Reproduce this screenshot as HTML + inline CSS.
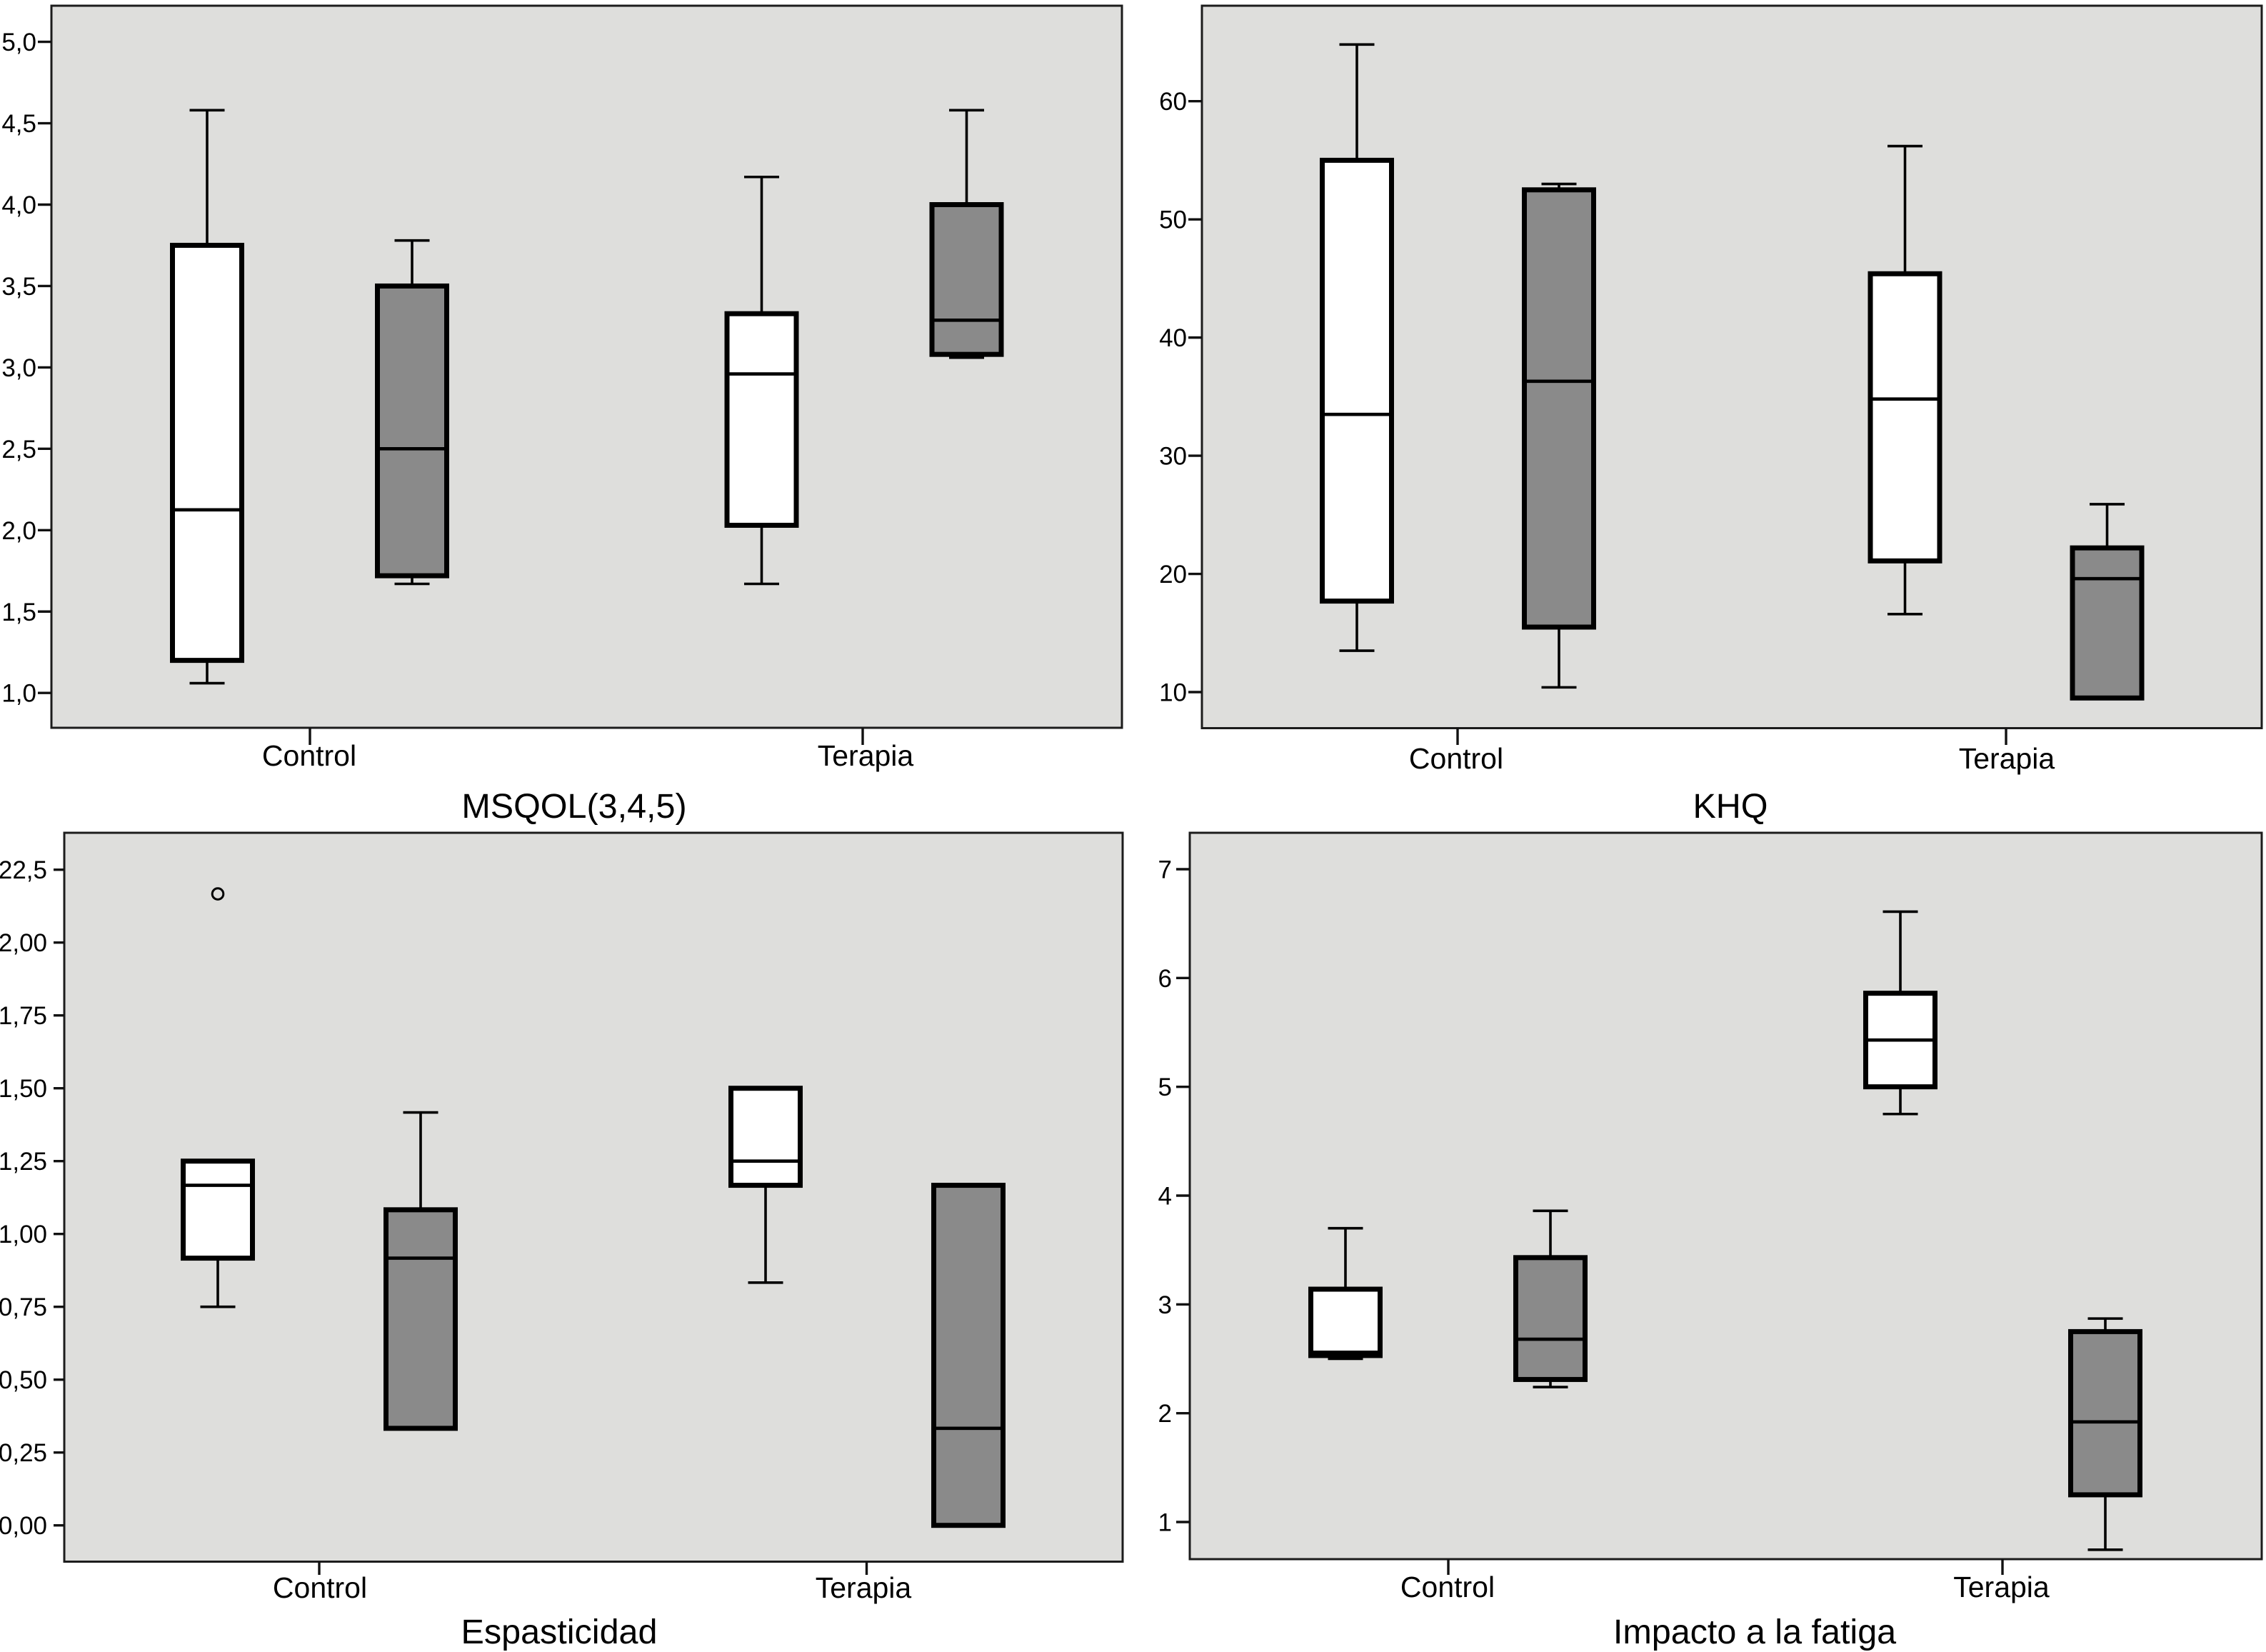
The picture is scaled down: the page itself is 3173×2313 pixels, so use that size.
<!DOCTYPE html>
<html lang="es">
<head>
<meta charset="utf-8">
<title>Boxplots Control / Terapia</title>
<style>
html,body{margin:0;padding:0;background:#fff;}
svg{display:block;font-family:"Liberation Sans",Arial,sans-serif;}
</style>
</head>
<body>
<svg id="chart" xmlns="http://www.w3.org/2000/svg" width="3173" height="2313" viewBox="0 0 3173 2313"></svg>
<script>
// Categories shared by all panels
const groupNames = ['Control', 'Terapia'];
const seriesKinds = ['white', 'gray'];

// Values are ordered: Control-white, Control-gray, Terapia-white, Terapia-gray
const msqolTicks = [1, 1.5, 2, 2.5, 3, 3.5, 4, 4.5, 5];
const msqolTickLabels = ['1,0', '1,5', '2,0', '2,5', '3,0', '3,5', '4,0', '4,5', '5,0'];
const msqolLow = [1.06, 1.67, 1.67, 3.06];
const msqolQ1 = [1.2, 1.72, 2.03, 3.08];
const msqolMedian = [2.125, 2.5, 2.96, 3.29];
const msqolQ3 = [3.75, 3.5, 3.33, 4.0];
const msqolHigh = [4.58, 3.78, 4.17, 4.58];

const khqTicks = [10, 20, 30, 40, 50, 60];
const khqTickLabels = ['10', '20', '30', '40', '50', '60'];
const khqLow = [13.5, 10.4, 16.6, 9.45];
const khqQ1 = [17.7, 15.5, 21.1, 9.5];
const khqMedian = [33.5, 36.3, 34.8, 19.6];
const khqQ3 = [55, 52.5, 45.4, 22.2];
const khqHigh = [64.8, 53, 56.2, 25.9];

const spasTicks = [0, 0.25, 0.5, 0.75, 1, 1.25, 1.5, 1.75, 2, 2.25];
const spasTickLabels = ['0,00', '0,25', '0,50', '0,75', '1,00', '1,25', '1,50', '1,75', '2,00', '22,5'];
const spasLow = [0.75, 0.333, 0.833, 0];
const spasQ1 = [0.917, 0.333, 1.167, 0];
const spasMedian = [1.167, 0.917, 1.25, 0.333];
const spasQ3 = [1.25, 1.083, 1.5, 1.167];
const spasHigh = [1.25, 1.417, 1.5, 1.167];
const spasOutlierSeries = [0];
const spasOutlierValues = [2.167];

const fatigueTicks = [1, 2, 3, 4, 5, 6, 7];
const fatigueTickLabels = ['1', '2', '3', '4', '5', '6', '7'];
const fatigueLow = [2.5, 2.24, 4.75, 0.745];
const fatigueQ1 = [2.53, 2.31, 5.0, 1.25];
const fatigueMedian = [2.56, 2.68, 5.43, 1.92];
const fatigueQ3 = [3.14, 3.43, 5.86, 2.75];
const fatigueHigh = [3.7, 3.86, 6.61, 2.87];

const panels = [
  {id:'msqol', title:'MSQOL(3,4,5)', titleX:804, titleY:1145,
   left:72, right:1571, top:8, bottom:1019,
   v0:1, p0:970.2, v1:5, p1:58.6,
   centers:[433.5,1210], offset:143.5, tickX:[434,1208], labelX:[433,1212],
   tickLen:19, xTickEnd:1043, labelBase:1072, yLabelEnd:51,
   ticks:msqolTicks, labels:msqolTickLabels,
   low:msqolLow, q1:msqolQ1, median:msqolMedian, q3:msqolQ3, high:msqolHigh,
   outlierSeries:[], outlierValues:[]},
  {id:'khq', title:'KHQ', titleX:2423, titleY:1145,
   left:1683, right:3167, top:8, bottom:1019.5,
   v0:10, p0:969, v1:60, p1:141.7,
   centers:[2041.5,2809], offset:141.5, tickX:[2041,2809], labelX:[2039,2810],
   tickLen:19, xTickEnd:1043, labelBase:1076, yLabelEnd:1662,
   ticks:khqTicks, labels:khqTickLabels,
   low:khqLow, q1:khqQ1, median:khqMedian, q3:khqQ3, high:khqHigh,
   outlierSeries:[], outlierValues:[]},
  {id:'espasticidad', title:'Espasticidad', titleX:783, titleY:2301,
   left:90, right:1572, top:1166, bottom:2186.5,
   v0:0, p0:2135.7, v1:2, p1:1319.7,
   centers:[447,1214], offset:142, tickX:[447,1213.5], labelX:[448,1209],
   tickLen:15, xTickEnd:2205, labelBase:2237, yLabelEnd:66,
   ticks:spasTicks, labels:spasTickLabels,
   low:spasLow, q1:spasQ1, median:spasMedian, q3:spasQ3, high:spasHigh,
   outlierSeries:spasOutlierSeries, outlierValues:spasOutlierValues},
  {id:'fatiga', title:'Impacto a la fatiga', titleX:2457, titleY:2301,
   left:1666, right:3167, top:1166, bottom:2183,
   v0:1, p0:2131, v1:7, p1:1217,
   centers:[2027.5,2804.5], offset:143.5, tickX:[2028,2804], labelX:[2027,2802.5],
   tickLen:19, xTickEnd:2205, labelBase:2236, yLabelEnd:1641,
   ticks:fatigueTicks, labels:fatigueTickLabels,
   low:fatigueLow, q1:fatigueQ1, median:fatigueMedian, q3:fatigueQ3, high:fatigueHigh,
   outlierSeries:[], outlierValues:[]}
];

const svg = document.getElementById('chart');
const NS = 'http://www.w3.org/2000/svg';
const INK = '#000';

function shape(tag, attrs, parent) {
  const node = document.createElementNS(NS, tag);
  for (const k in attrs) node.setAttribute(k, attrs[k]);
  parent.appendChild(node);
  return node;
}
function yScale(p, v) {
  return p.p0 + (v - p.v0) * (p.p1 - p.p0) / (p.v1 - p.v0);
}
function xScale(p, seriesIndex) {
  const g = Math.floor(seriesIndex / 2);
  const s = seriesIndex % 2;
  return p.centers[g] + (s === 0 ? -p.offset : p.offset);
}

const BOX_W = 97, BOX_SW = 7, MED_SW = 4.6, WH_SW = 3.6, CAP_W = 49;

panels.forEach(function (p) {
  const g = shape('g', {}, svg);
  
  

  const bg = shape('rect', {x:p.left, y:p.top, width:p.right - p.left, height:p.bottom - p.top, fill:'#dededc', stroke:'#1c1c1c', 'stroke-width':3}, g);
  
  

  p.ticks.forEach(function (v, i) {
    const y = yScale(p, v);
    const tick = shape('line', {x1:p.left - p.tickLen, x2:p.left, y1:y, y2:y, stroke:'#111', 'stroke-width':3.4}, g);
    
    
    const lab = shape('text', {x:p.yLabelEnd, y:y + 12.5, 'text-anchor':'end', 'font-size':35, fill:INK}, g);
    
    
    lab.textContent = p.labels[i];
  });

  groupNames.forEach(function (name, i) {
    const tick = shape('line', {x1:p.tickX[i], x2:p.tickX[i], y1:p.bottom, y2:p.xTickEnd, stroke:'#111', 'stroke-width':3.4}, g);
    
    
    const lab = shape('text', {x:p.labelX[i], y:p.labelBase, 'text-anchor':'middle', 'font-size':41, fill:INK}, g);
    
    
    lab.textContent = name;
  });

  const title = shape('text', {x:p.titleX, y:p.titleY, 'text-anchor':'middle', 'font-size':48.5, fill:INK}, g);
  
  
  title.textContent = p.title;

  p.median.forEach(function (_, i) {
    const cx = xScale(p, i);
    const kind = seriesKinds[i % 2];
    const group = groupNames[Math.floor(i / 2)].toLowerCase();
    const yLow = yScale(p, p.low[i]), yQ1 = yScale(p, p.q1[i]), yMed = yScale(p, p.median[i]),
          yQ3 = yScale(p, p.q3[i]), yHigh = yScale(p, p.high[i]);

    if (p.high[i] > p.q3[i]) {
      const w = shape('line', {x1:cx, x2:cx, y1:yHigh, y2:yQ3, stroke:INK, 'stroke-width':WH_SW}, g);
      
      
      const c = shape('line', {x1:cx - CAP_W / 2, x2:cx + CAP_W / 2, y1:yHigh, y2:yHigh, stroke:INK, 'stroke-width':WH_SW}, g);
      
      
    }
    if (p.low[i] < p.q1[i]) {
      const w = shape('line', {x1:cx, x2:cx, y1:yQ1, y2:yLow, stroke:INK, 'stroke-width':WH_SW}, g);
      
      
      const c = shape('line', {x1:cx - CAP_W / 2, x2:cx + CAP_W / 2, y1:yLow, y2:yLow, stroke:INK, 'stroke-width':WH_SW}, g);
      
      
    }
    const box = shape('rect', {x:cx - BOX_W / 2, y:yQ3, width:BOX_W, height:yQ1 - yQ3, fill:kind === 'white' ? '#ffffff' : '#8a8a8a', stroke:INK, 'stroke-width':BOX_SW}, g);
    
    
    const med = shape('line', {x1:cx - BOX_W / 2, x2:cx + BOX_W / 2, y1:yMed, y2:yMed, stroke:INK, 'stroke-width':MED_SW}, g);
    
    
  });

  p.outlierValues.forEach(function (v, i) {
    const o = shape('circle', {cx:xScale(p, p.outlierSeries[i]), cy:yScale(p, v), r:7.8, fill:'none', stroke:INK, 'stroke-width':3}, g);
    
    
  });
});
</script>
</body>
</html>
